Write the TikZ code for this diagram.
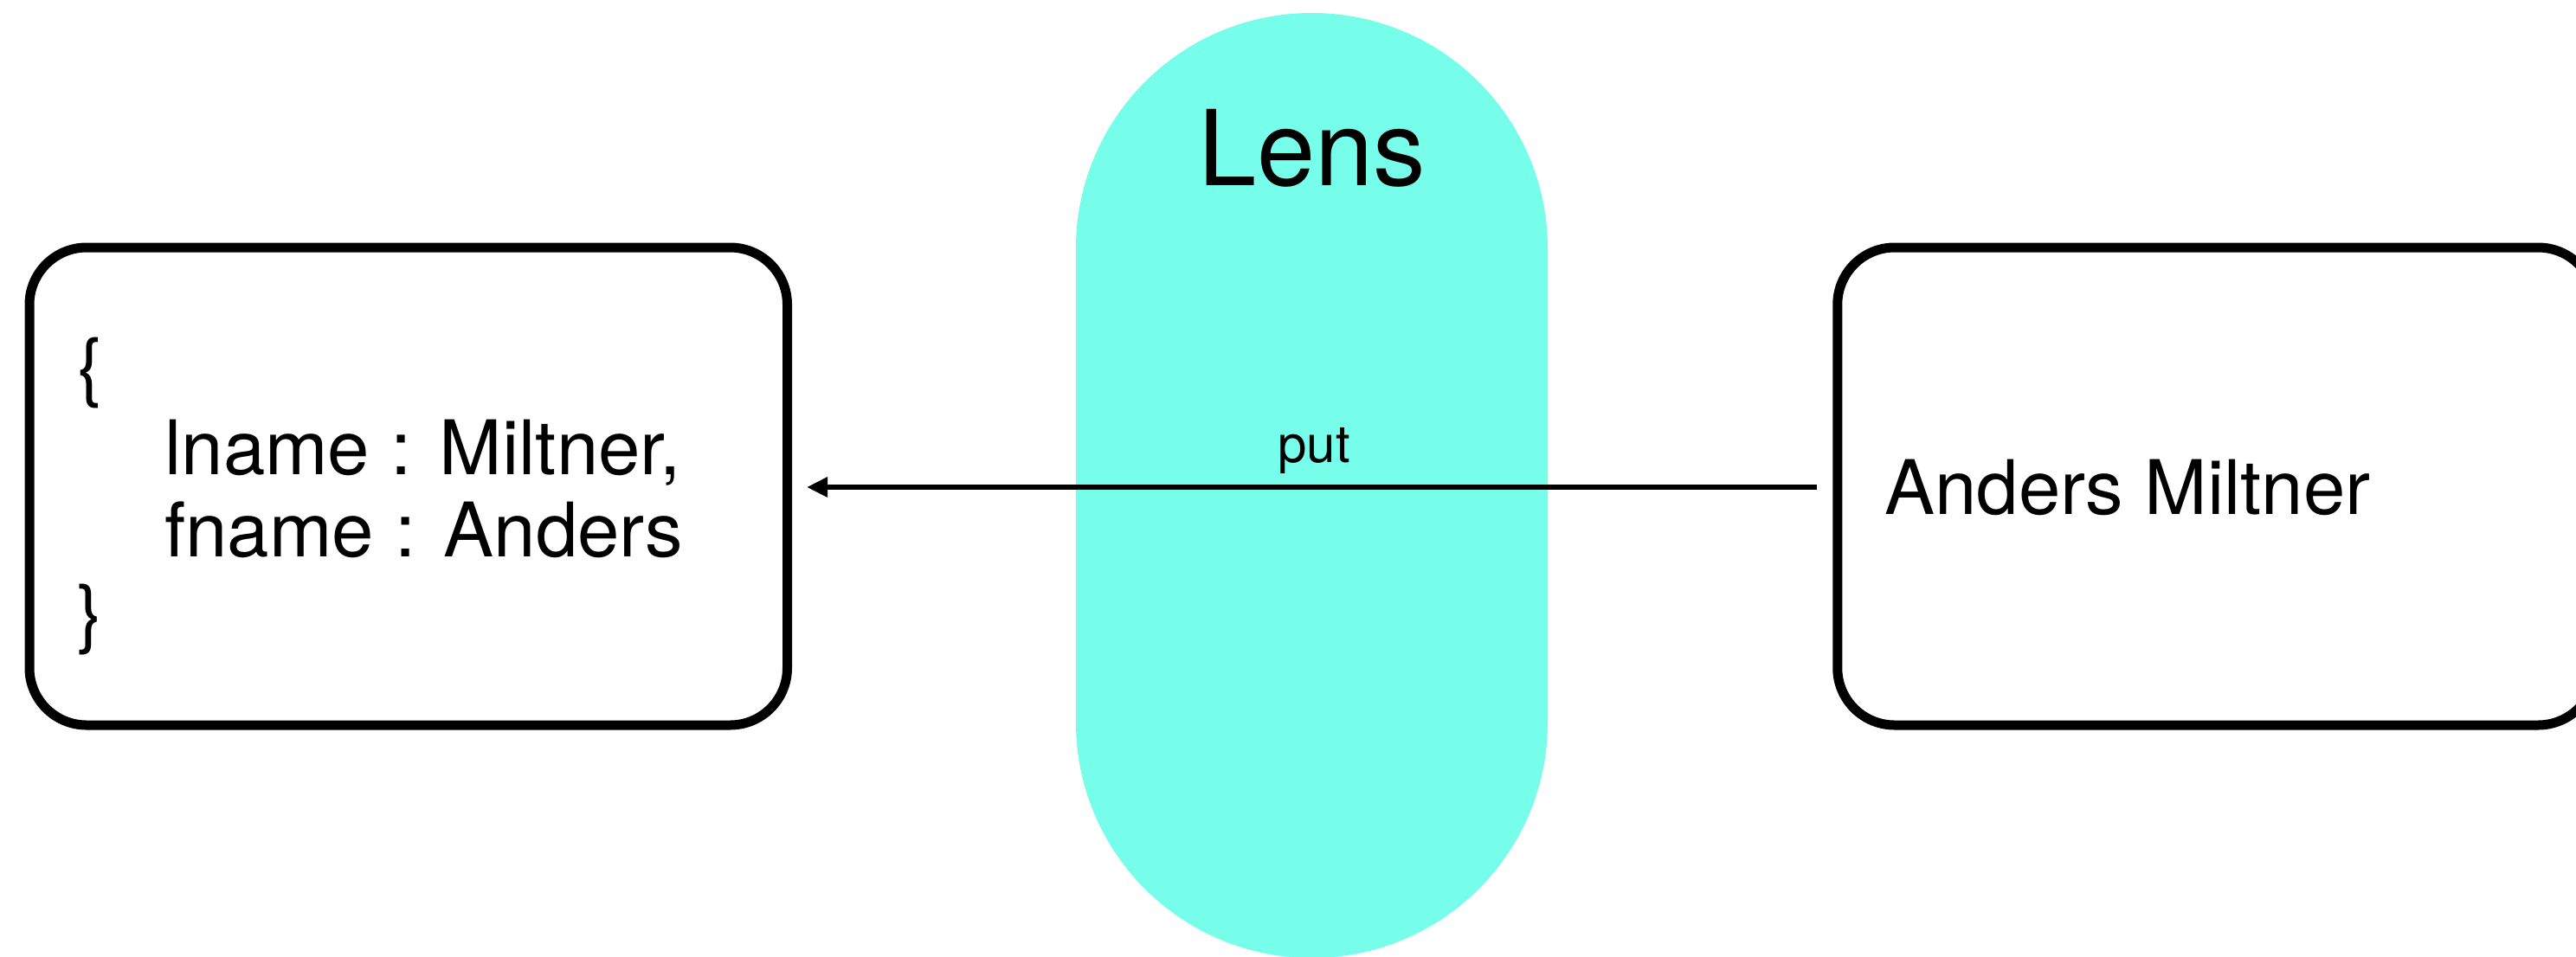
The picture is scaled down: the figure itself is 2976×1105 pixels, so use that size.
\documentclass[tikz,border=0pt]{standalone}
\usepackage{fontspec}
\setmainfont{TeX Gyre Heros}
\usetikzlibrary{arrows.meta}
\definecolor{lenscol}{RGB}{118,254,234}
\tikzset{
  box/.style={draw=black, line width=5.5pt, rounded corners=33pt, minimum width=437.75pt, minimum height=276pt, inner sep=0pt, fill=white},
  lensshape/.style={fill=lenscol, draw=none, rounded corners=136pt, minimum width=272.5pt, minimum height=546pt, inner sep=0pt},
  body/.style={inner sep=0pt, font=\fontsize{43.5}{47.5}\selectfont},
  lenslabel/.style={inner sep=0pt, font=\fontsize{60.5}{66}\selectfont},
  edgelabel/.style={inner sep=0pt, font=\fontsize{30}{34}\selectfont},
  conn/.style={line width=3pt, -{Triangle[length=12pt,width=11pt]}}
}
\begin{document}
\begin{tikzpicture}[x=0.5pt,y=-0.5pt]
\useasboundingbox (0,0) rectangle (2976,1105);
% lens
\node[lensshape] (lens) at (1515.5,561) {};
\node[lenslabel, anchor=base] (lenstext) at (1516,214) {Lens};
% boxes
\node[box] (lbox) at (471.75,562) {};
\node[box] (rbox) at (2560.5,562) {};
% left text
\node[body, anchor=base west] (ob) at (89,453) {\{};
\node[body, anchor=base west] (l1) at (190,548) {lname : Miltner,};
\node[body, anchor=base west] (l2) at (190,643) {fname : Anders};
\node[body, anchor=base west] (cb) at (89,738) {\}};
% right text
\node[body, anchor=base west] (rt) at (2177,594) {Anders Miltner};
% connector
\draw[conn] ([xshift=-9pt,yshift=-0.5pt]rbox.west) -- ([xshift=8.5pt,yshift=-0.5pt]lbox.east);
\node[edgelabel, anchor=base] (put) at (1518,534) {put};
\end{tikzpicture}
\end{document}
